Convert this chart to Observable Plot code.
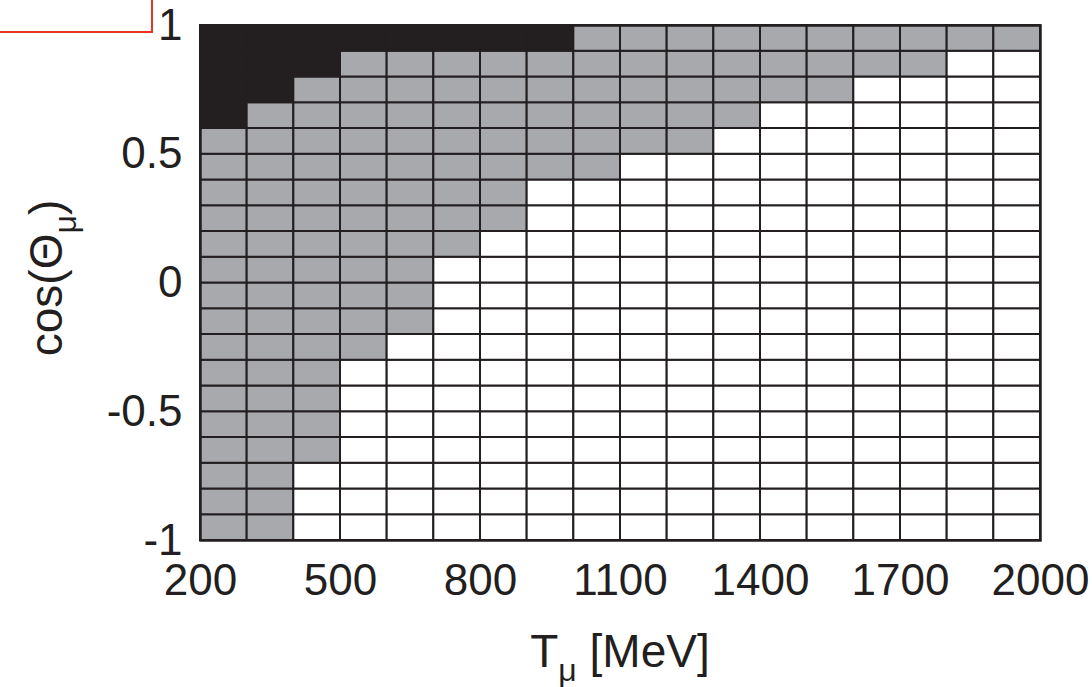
<!DOCTYPE html>
<html>
<head>
<meta charset="utf-8">
<script src="https://cdn.jsdelivr.net/npm/d3@7"></script>
<script src="https://cdn.jsdelivr.net/npm/@observablehq/plot@0.6"></script>
<style>
  html, body { margin: 0; padding: 0; background: #fff; }
  #wrap { position: relative; width: 1092px; height: 687px; overflow: hidden; }
  #redbox { position: absolute; left: -4px; top: -4px; width: 153px; height: 33px;
            border: 2px solid #e8321e; box-sizing: content-box; }
</style>
</head>
<body>
<div id="wrap"><div id="redbox"></div></div>
<script>
// Kinetic-energy bin starts (MeV), bin width 100
const tStarts = [200, 300, 400, 500, 600, 700, 800, 900, 1000, 1100, 1200, 1300, 1400, 1500, 1600, 1700, 1800, 1900];
// cos(theta) bin starts, bin width 0.1
const cosStarts = [-1, -0.9, -0.8, -0.7, -0.6, -0.5, -0.4, -0.3, -0.2, -0.1, 0, 0.1, 0.2, 0.3, 0.4, 0.5, 0.6, 0.7, 0.8, 0.9];
// per T bin: cos value from which cells are gray
const grayFrom = [-1, -1, -0.7, -0.3, -0.2, 0.1, 0.2, 0.4, 0.4, 0.5, 0.5, 0.6, 0.7, 0.7, 0.8, 0.8, 0.9, 0.9];
// per T bin: cos value from which cells are black
const blackFrom = [0.6, 0.7, 0.8, 0.9, 0.9, 0.9, 0.9, 0.9, 1, 1, 1, 1, 1, 1, 1, 1, 1, 1];
const categories = ["empty", "partial", "full"];
const xTicks = [200, 500, 800, 1100, 1400, 1700, 2000];
const yTicks = [-1, -0.5, 0, 0.5, 1];

const cells = [];
tStarts.forEach((t, i) => {
  cosStarts.forEach(c => {
    let cat = categories[0];
    if (c >= blackFrom[i] - 1e-9) cat = categories[2];
    else if (c >= grayFrom[i] - 1e-9) cat = categories[1];
    cells.push({t0: t, t1: t + 100, c0: c, c1: +(c + 0.1).toFixed(2), cat});
  });
});

const font = "'Liberation Sans', Arial, Helvetica, sans-serif";
const plot = Plot.plot({
  width: 1092,
  height: 687,
  marginTop: 25,
  marginBottom: 147,
  marginLeft: 200,
  marginRight: 52,
  style: {fontSize: "44px", fontFamily: font, color: "#231f20", background: "transparent"},
  x: {domain: [200, 2000], ticks: xTicks, tickSize: 0, tickPadding: 23, label: null, tickFormat: d => String(d)},
  y: {domain: [-1, 1], ticks: yTicks, tickSize: 0, tickPadding: 18, label: null, tickFormat: d => String(d)},
  color: {type: "ordinal", domain: categories, range: ["#ffffff", "#a7a9ac", "#231f20"]},
  marks: [
    Plot.rect(cells, {x1: "t0", x2: "t1", y1: "c0", y2: "c1", fill: "cat", stroke: "#231f20", strokeWidth: 2}),
    Plot.frame({stroke: "#231f20", strokeWidth: 2.5})
  ]
});
plot.style.position = "absolute";
plot.style.left = "0px";
plot.style.top = "0px";
document.getElementById("wrap").prepend(plot);

const svg = d3.select(plot);
// x axis label
const xl = svg.append("text")
  .attr("x", 620).attr("y", 667)
  .attr("text-anchor", "middle")
  .attr("fill", "#231f20")
  .style("font-family", font).style("font-size", "46px");
xl.append("tspan").text("T");
xl.append("tspan").attr("dy", 14).style("font-size", "32px").text("μ");
xl.append("tspan").attr("dy", -14).text(" [MeV]");
// y axis label
const yl = svg.append("text")
  .attr("transform", "translate(62,278) rotate(-90)")
  .attr("text-anchor", "middle")
  .attr("fill", "#231f20")
  .style("font-family", font).style("font-size", "46px");
yl.append("tspan").text("cos(Θ");
yl.append("tspan").attr("dy", 14).style("font-size", "32px").text("μ");
yl.append("tspan").attr("dy", -14).text(")");
</script>
</body>
</html>
